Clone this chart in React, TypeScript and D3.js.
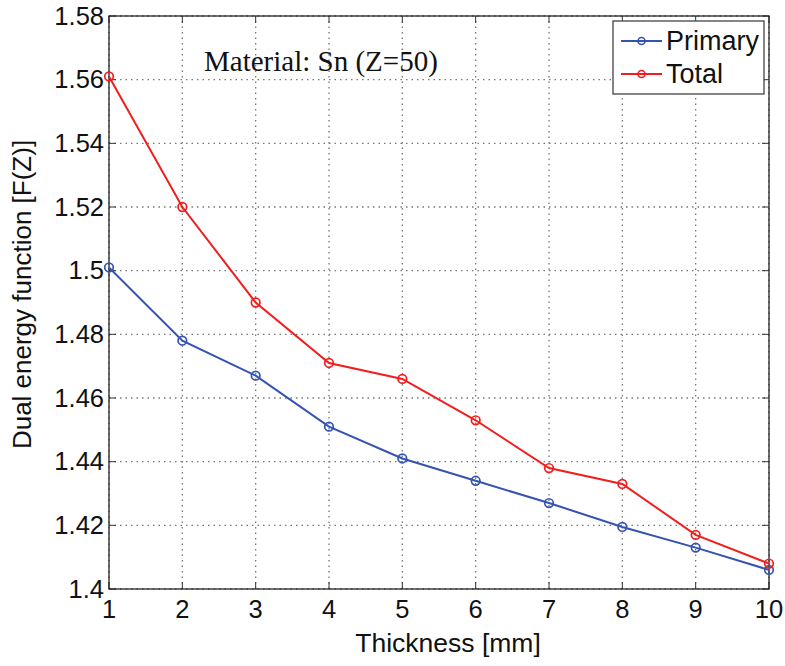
import React, { useEffect, useRef } from "react";
import * as d3 from "d3";

const thickness = [1, 2, 3, 4, 5, 6, 7, 8, 9, 10];
const primary = [1.501, 1.478, 1.467, 1.451, 1.441, 1.434, 1.427, 1.4195, 1.413, 1.406];
const total = [1.561, 1.520, 1.490, 1.471, 1.466, 1.453, 1.438, 1.433, 1.417, 1.408];
const yTicks = [1.4, 1.42, 1.44, 1.46, 1.48, 1.5, 1.52, 1.54, 1.56, 1.58];
const yTickLabels = ["1.4", "1.42", "1.44", "1.46", "1.48", "1.5", "1.52", "1.54", "1.56", "1.58"];

const series = [
  { name: "Primary", values: primary, color: "#3553b0" },
  { name: "Total", values: total, color: "#f21d1d" },
];

const App = () => {
  const svgRef = useRef<SVGSVGElement>(null);

  useEffect(() => {
    const svg = d3.select(svgRef.current);
    svg.selectAll("*").remove();

    const width = 785;
    const height = 666;
    const margin = { top: 16, right: 16, bottom: 77, left: 109 };
    const x0 = margin.left, x1 = width - margin.right;
    const y0 = height - margin.bottom, y1 = margin.top;

    const x = d3.scaleLinear().domain([1, 10]).range([x0, x1]);
    const y = d3.scaleLinear().domain([1.4, 1.58]).range([y0, y1]);

    svg.append("rect").attr("width", width).attr("height", height).attr("fill", "#fff");

    const font = "Liberation Sans, Arial, sans-serif";

    // grid
    const grid = svg.append("g").attr("stroke", "#777").attr("stroke-width", 1.3)
      .attr("stroke-dasharray", "1.5,4");
    thickness.forEach(t => {
      grid.append("line").attr("x1", x(t)).attr("x2", x(t)).attr("y1", y0).attr("y2", y1);
    });
    yTicks.forEach(v => {
      grid.append("line").attr("x1", x0).attr("x2", x1).attr("y1", y(v)).attr("y2", y(v));
    });

    // ticks inward on all sides
    const ticks = svg.append("g").attr("stroke", "#333").attr("stroke-width", 1);
    thickness.forEach(t => {
      ticks.append("line").attr("x1", x(t)).attr("x2", x(t)).attr("y1", y0).attr("y2", y0 - 7);
      ticks.append("line").attr("x1", x(t)).attr("x2", x(t)).attr("y1", y1).attr("y2", y1 + 7);
    });
    yTicks.forEach(v => {
      ticks.append("line").attr("x1", x0).attr("x2", x0 + 7).attr("y1", y(v)).attr("y2", y(v));
      ticks.append("line").attr("x1", x1).attr("x2", x1 - 7).attr("y1", y(v)).attr("y2", y(v));
    });

    // frame
    svg.append("rect").attr("x", x0).attr("y", y1).attr("width", x1 - x0).attr("height", y0 - y1)
      .attr("fill", "none").attr("stroke", "#222").attr("stroke-width", 1.3);

    // tick labels
    svg.append("g").selectAll("text").data(thickness).join("text")
      .attr("x", d => x(d)).attr("y", y0 + 29)
      .attr("text-anchor", "middle").attr("font-family", font).attr("font-size", 25.5)
      .attr("fill", "#111").text(d => String(d));
    svg.append("g").selectAll("text").data(yTicks).join("text")
      .attr("x", x0 - 5).attr("y", d => y(d) + 8.5)
      .attr("text-anchor", "end").attr("font-family", font).attr("font-size", 25.5)
      .attr("fill", "#111").text((d, i) => yTickLabels[i]);

    // axis labels
    svg.append("text").attr("x", (x0 + x1) / 2 + 9).attr("y", 652)
      .attr("text-anchor", "middle").attr("font-family", font).attr("font-size", 26.5)
      .attr("fill", "#111").text("Thickness [mm]");
    svg.append("text").attr("transform", `translate(31, ${(y0 + y1) / 2 - 8}) rotate(-90)`)
      .attr("text-anchor", "middle").attr("font-family", font).attr("font-size", 26)
      .attr("fill", "#111").text("Dual energy function [F(Z)]");

    // annotation
    svg.append("text").attr("x", 204).attr("y", 71)
      .attr("font-family", "Liberation Serif, Times New Roman, serif").attr("font-size", 29)
      .attr("fill", "#111").text("Material: Sn (Z=50)");

    // series
    series.forEach(s => {
      const pts = thickness.map((t, i) => [t, s.values[i]] as [number, number]);
      const line = d3.line<[number, number]>().x(d => x(d[0])).y(d => y(d[1]));
      svg.append("path").datum(pts).attr("fill", "none").attr("stroke", s.color)
        .attr("stroke-width", 2).attr("d", line);
      svg.append("g").selectAll("circle").data(pts).join("circle")
        .attr("cx", d => x(d[0])).attr("cy", d => y(d[1])).attr("r", 4.3)
        .attr("fill", "none").attr("stroke", s.color).attr("stroke-width", 1.7);
    });

    // legend
    const lg = svg.append("g").attr("transform", "translate(613, 21)");
    lg.append("rect").attr("width", 151).attr("height", 73).attr("fill", "#fff")
      .attr("stroke", "#444").attr("stroke-width", 1.3);
    series.forEach((s, i) => {
      const cy = 20 + i * 33;
      lg.append("line").attr("x1", 8).attr("x2", 49).attr("y1", cy).attr("y2", cy)
        .attr("stroke", s.color).attr("stroke-width", 2);
      lg.append("circle").attr("cx", 28.5).attr("cy", cy).attr("r", 3.5)
        .attr("fill", "none").attr("stroke", s.color).attr("stroke-width", 1.6);
      lg.append("text").attr("x", 53).attr("y", cy + 9).attr("font-family", font)
        .attr("font-size", 27).attr("fill", "#111").text(s.name);
    });
  }, []);

  return (
    <svg ref={svgRef} width={785} height={666}
      style={{ position: "absolute", left: 0, top: 0 }} />
  );
};

export default App;
